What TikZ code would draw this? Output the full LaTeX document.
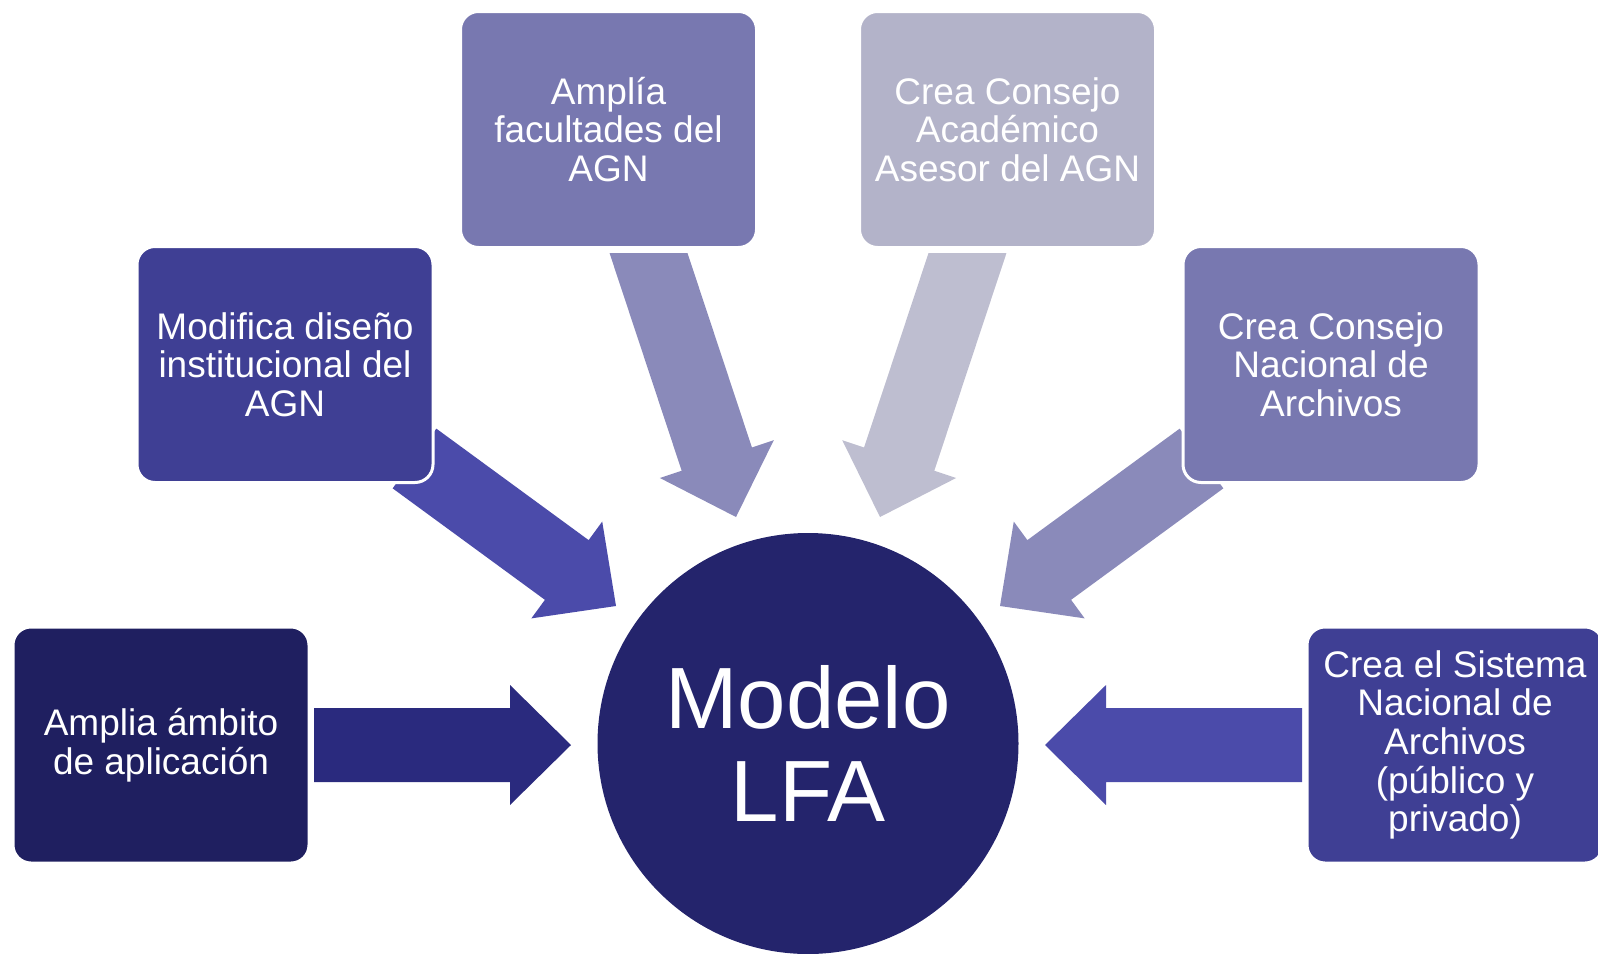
\documentclass[tikz,border=0pt]{standalone}
\usepackage{fontspec}
\setmainfont{Liberation Sans}
\usetikzlibrary{calc}
\definecolor{cA}{RGB}{31,31,96}
\definecolor{cB}{RGB}{63,63,148}
\definecolor{cC}{RGB}{120,120,176}
\definecolor{cD}{RGB}{179,179,201}
\definecolor{cM}{RGB}{36,36,108}
\definecolor{aA}{RGB}{42,42,126}
\definecolor{aB}{RGB}{75,75,170}
\definecolor{aC}{RGB}{138,138,186}
\definecolor{aD}{RGB}{190,190,208}
\tikzset{
  box/.style={rectangle, rounded corners=18pt, draw=white, line width=3pt,
    text=white, align=center, minimum width=296pt, minimum height=236pt,
    inner sep=0pt, font=\fontsize{37}{38.7}\selectfont},
}
\newcommand\blockarrow[3]{%
  \coordinate (hh) at ($(#3)!61pt!(#2)$);
  \fill[#1] ($(#2)!37pt!90:(#3)$) -- ($(hh)!37pt!90:(#3)$) -- ($(hh)!60pt!90:(#3)$)
    -- (#3) -- ($(hh)!60pt!-90:(#3)$) -- ($(hh)!37pt!-90:(#3)$)
    -- ($(#2)!37pt!-90:(#3)$) -- cycle;
}
\begin{document}
\begin{tikzpicture}[x=1pt,y=-1pt]
\useasboundingbox (0,0) rectangle (1598,953);
% arrow anchors
\coordinate (sA) at (314,745);   \coordinate (tA) at (571,745);
\coordinate (sF) at (1302,745);  \coordinate (tF) at (1045,745);
\coordinate (sB) at (414.5,458.5); \coordinate (tB) at (616,606);
\coordinate (sE) at (1201.5,458.5); \coordinate (tE) at (1000,606);
\coordinate (sC) at (642.2,234); \coordinate (tC) at (736,517);
\coordinate (sD) at (973.8,234); \coordinate (tD) at (880,517);
% arrows
\blockarrow{aA}{sA}{tA}
\blockarrow{aB}{sF}{tF}
\blockarrow{aB}{sB}{tB}
\blockarrow{aC}{sE}{tE}
\begin{scope}
  \clip (0,253) rectangle (1598,953);
  \blockarrow{aC}{sC}{tC}
  \blockarrow{aD}{sD}{tD}
\end{scope}
% boxes
\node[box, fill=cA] (bA) at (161,745) {Amplia ámbito\\de aplicación};
\node[box, fill=cB] (bB) at (285,364.5) {Modifica diseño\\institucional del\\AGN};
\node[box, fill=cC] (bC) at (608.5,129.5) {Amplía\\facultades del\\AGN};
\node[box, fill=cD] (bD) at (1007.5,129.5) {Crea Consejo\\Académico\\Asesor del AGN};
\node[box, fill=cC] (bE) at (1331,364.5) {Crea Consejo\\Nacional de\\Archivos};
\node[box, fill=cB] (bF) at (1455,745) {Crea el Sistema\\Nacional de\\Archivos\\(público y\\privado)};
% centre
\node[circle, fill=cM, minimum size=421pt, inner sep=0pt, text=white, align=center,
  font=\fontsize{87}{93}\selectfont] (m) at (808,743.5) {Modelo\\LFA};
\end{tikzpicture}
\end{document}
